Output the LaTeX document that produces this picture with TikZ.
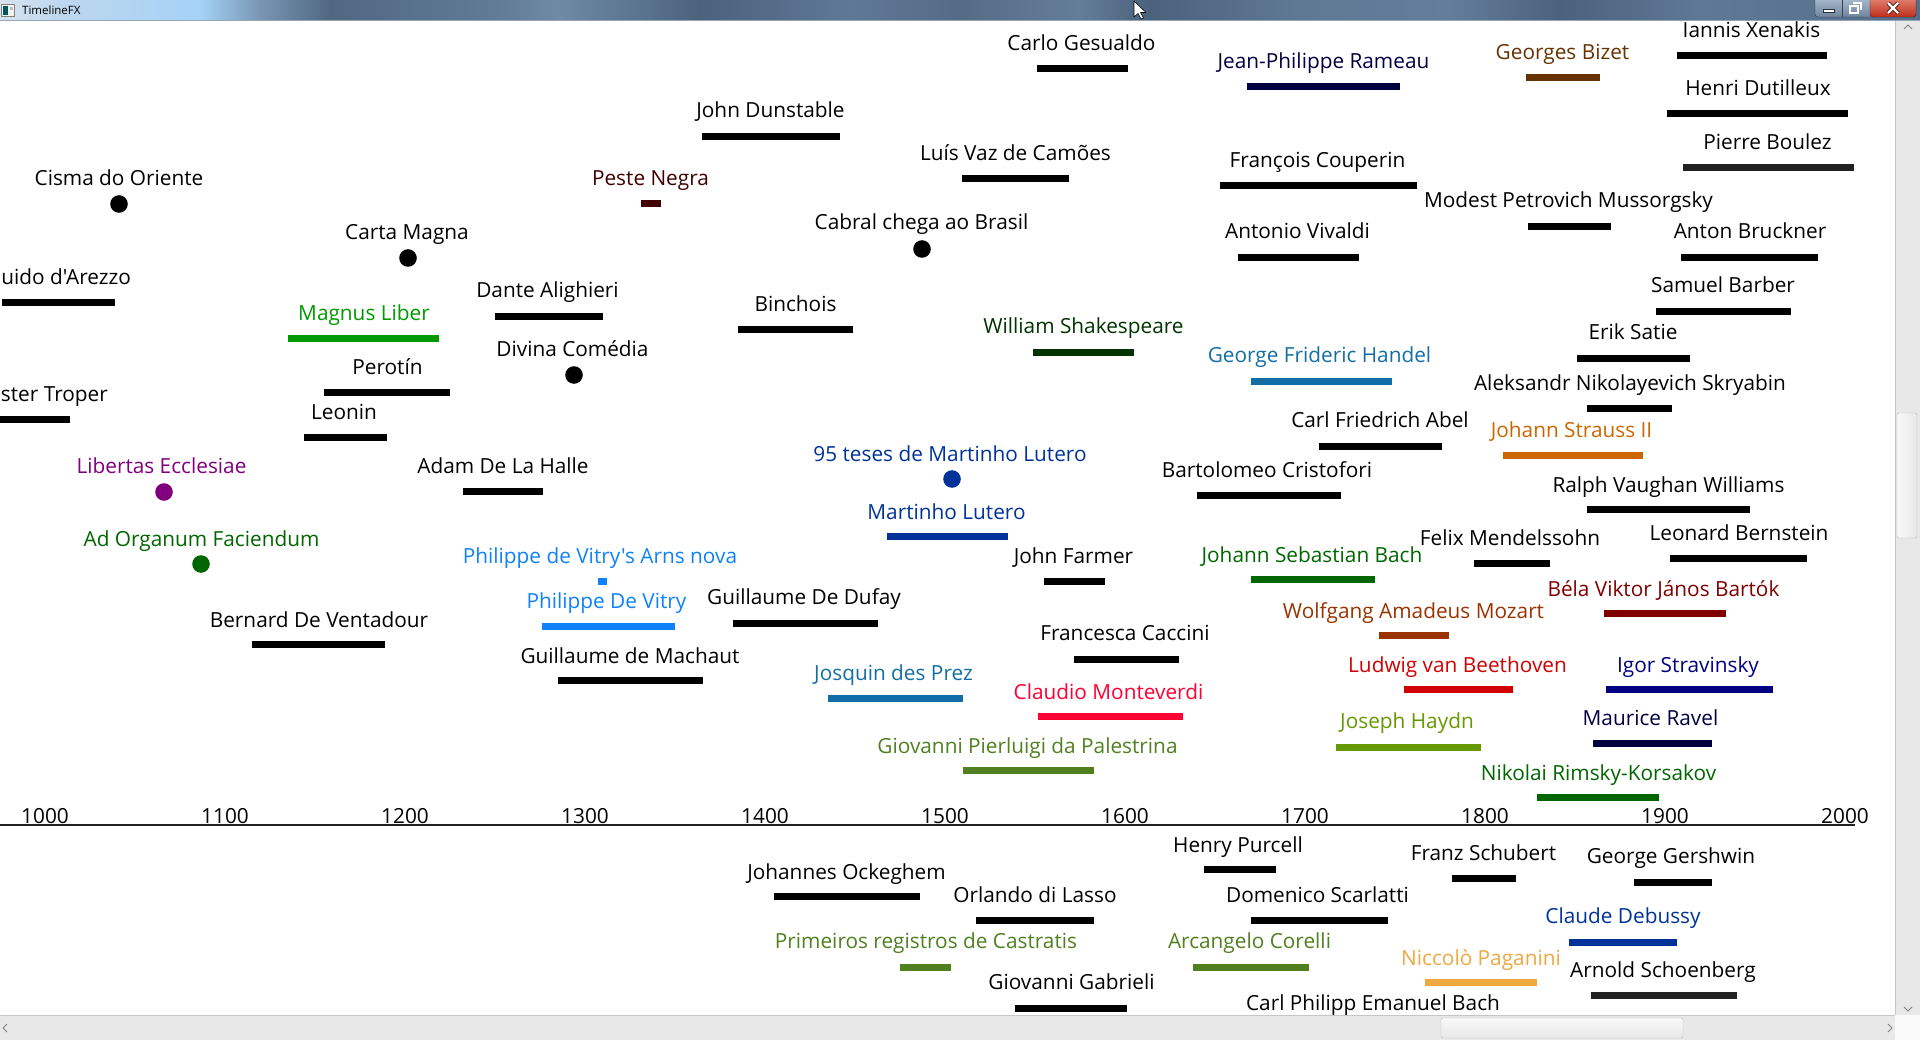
\documentclass[tikz,border=0pt]{standalone}
\usepackage{fontspec}
\setmainfont{Open Sans}
% label face without TeX ligature mapping, so apostrophes stay straight
\newfontfamily\lblfamily{Open Sans}
\definecolor{cPeste}{RGB}{64,0,0}
\definecolor{cNavyDark}{RGB}{0,0,64}
\definecolor{cBrown}{RGB}{102,51,0}
\definecolor{cMagnus}{RGB}{0,153,0}
\definecolor{cShakes}{RGB}{0,51,0}
\definecolor{cTeal}{RGB}{20,110,165}
\definecolor{cBlue}{RGB}{0,51,153}
\definecolor{cVitry}{RGB}{15,130,250}
\definecolor{cPurple}{RGB}{128,0,128}
\definecolor{cGreen}{RGB}{0,102,0}
\definecolor{cRust}{RGB}{153,51,0}
\definecolor{cRed}{RGB}{210,0,0}
\definecolor{cPink}{RGB}{255,0,51}
\definecolor{cOrange}{RGB}{204,102,0}
\definecolor{cMaroon}{RGB}{128,0,0}
\definecolor{cNavy}{RGB}{0,0,128}
\definecolor{cOlive}{RGB}{80,128,32}
\definecolor{cHaydn}{RGB}{102,153,0}
\definecolor{cPaganini}{RGB}{240,168,64}
\definecolor{cDark}{RGB}{34,34,34}
\definecolor{cTrack}{RGB}{232,232,232}
\definecolor{cArrow}{RGB}{130,130,130}
\definecolor{cTitleLine}{RGB}{150,165,182}
\definecolor{cBtnTop}{RGB}{175,192,210}
\definecolor{cBtnBot}{RGB}{110,132,158}
\definecolor{cBtnEdge}{RGB}{50,64,80}
\definecolor{cCloseTop}{RGB}{230,140,120}
\definecolor{cCloseBot}{RGB}{190,45,28}
\definecolor{cCloseEdge}{RGB}{90,30,25}
\definecolor{cGlyphEdge}{RGB}{40,50,62}
\definecolor{cXEdge}{RGB}{80,20,15}
% a timeline bar: colour, left x, right x, centre y
\newcommand\Span[4]{\fill[#1] (#2,#4-3.5) rectangle (#3,#4+3.5);}
% a point event marker: colour, x, y
\newcommand\Mark[3]{\fill[#1] (#2,#3) circle[radius=8.8pt];}
\begin{document}
\begin{tikzpicture}[x=1pt,y=-1pt,
  lbl/.style={anchor=base,inner sep=0pt,font=\lblfamily\fontsize{20.8}{25}\selectfont},
  lble/.style={lbl,anchor=base east},
  yearlbl/.style={lbl}]
\useasboundingbox (0,0) rectangle (1920,1040);
\clip (0,0) rectangle (1920,1040);
\fill[white] (0,0) rectangle (1920,1040);

% ---- upper band, left part
\node[lbl] (cisma) at (119,186) {Cisma do Oriente};
\Mark{black}{119}{204}
\node[lbl] (carta) at (407,240) {Carta Magna};
\Mark{black}{408}{258}
\node[lble] (guido) at (131,285) {Guido d'Arezzo};
\Span{black}{2}{115}{303}
\node[lbl,text=cMagnus] (magnus) at (364,321) {Magnus Liber};
\Span{cMagnus}{288}{439}{338.5}
\node[lbl] (dunstable) at (770.5,118) {John Dunstable};
\Span{black}{702}{840}{137}
\node[lbl,text=cPeste] (peste) at (650.5,186) {Peste Negra};
\Span{cPeste}{641}{661}{203.5}
\node[lbl] (cabral) at (921.5,230) {Cabral chega ao Brasil};
\Mark{black}{922}{249}
\node[lbl] (dante) at (547.5,298) {Dante Alighieri};
\Span{black}{495}{603}{317}
\node[lbl] (binchois) at (795.5,312) {Binchois};
\Span{black}{738}{853}{329.5}
\node[lbl] (divina) at (572.5,357) {Divina Comédia};
\Mark{black}{574}{375}

% ---- upper band, middle part
\node[lbl] (gesualdo) at (1081.5,51) {Carlo Gesualdo};
\Span{black}{1037}{1128}{68.5}
\node[lbl,text=cNavyDark] (rameau) at (1323.5,69) {Jean-Philippe Rameau};
\Span{cNavyDark}{1247}{1400}{86.5}
\node[lbl] (camoes) at (1015.5,161) {Luís Vaz de Camões};
\Span{black}{962}{1069}{178.5}
\node[lbl] (couperin) at (1317.5,168) {François Couperin};
\Span{black}{1220}{1417}{185.5}
\node[lbl] (vivaldi) at (1297.5,239) {Antonio Vivaldi};
\Span{black}{1238}{1359}{257.5}
\node[lbl,text=cShakes] (shakes) at (1083.5,334) {William Shakespeare};
\Span{cShakes}{1033}{1134}{352.5}

% ---- upper band, right part
\node[lbl] (xenakis) at (1751.5,38) {Iannis Xenakis};
\Span{black}{1677}{1827}{56}
\node[lbl,text=cBrown] (bizet) at (1562.5,60) {Georges Bizet};
\Span{cBrown}{1526}{1600}{77.5}
\node[lbl] (dutilleux) at (1758,96) {Henri Dutilleux};
\Span{black}{1667}{1848}{113.5}
\node[lbl] (boulez) at (1767.5,150) {Pierre Boulez};
\Span{cDark}{1683}{1854}{167.5}
\node[lbl] (mussorgsky) at (1568.5,208) {Modest Petrovich Mussorgsky};
\Span{black}{1528}{1611}{226.5}
\node[lbl] (bruckner) at (1750,239) {Anton Bruckner};
\Span{black}{1681}{1818}{257.5}
\node[lbl] (barber) at (1723,293) {Samuel Barber};
\Span{black}{1656}{1791}{311.5}
\node[lbl] (satie) at (1633,340) {Erik Satie};
\Span{black}{1577}{1690}{358.5}

% ---- middle band, left part
\node[lbl] (perotin) at (387.5,375) {Perotín};
\Span{black}{324}{450}{392.5}
\node[lble] (troper) at (108,402) {Winchester Troper};
\Span{black}{0}{70}{419.5}
\node[lbl] (leonin) at (344,420) {Leonin};
\Span{black}{304}{387}{437.5}
\node[lbl,text=cPurple] (libertas) at (161.5,473) {Libertas Ecclesiae};
\Mark{cPurple}{164}{492}
\node[lbl] (halle) at (503,473) {Adam De La Halle};
\Span{black}{463}{543}{491.5}
\node[lbl,text=cGreen] (organum) at (201.5,546) {Ad Organum Faciendum};
\Mark{cGreen}{201}{564}
\node[lbl] (ventadour) at (319,627) {Bernard De Ventadour};
\Span{black}{252}{385}{644.5}

% ---- middle band, centre
\node[lbl,text=cBlue] (teses) at (950,461) {95 teses de Martinho Lutero};
\Mark{cBlue}{952}{479}
\node[lbl,text=cBlue] (lutero) at (946.5,519) {Martinho Lutero};
\Span{cBlue}{887}{1008}{536.5}
\node[lbl,text=cVitry] (arsnova) at (600,563) {Philippe de Vitry's Arns nova};
\Span{cVitry}{598}{607}{581.5}
\node[lbl,text=cVitry] (vitry) at (606.5,608) {Philippe De Vitry};
\Span{cVitry}{542}{675}{626.5}
\node[lbl] (dufay) at (804,604) {Guillaume De Dufay};
\Span{black}{733}{878}{623}
\node[lbl] (machaut) at (630,663) {Guillaume de Machaut};
\Span{black}{558}{703}{680.5}
\node[lbl,text=cTeal] (josquin) at (893.5,680) {Josquin des Prez};
\Span{cTeal}{828}{963}{698.5}
\node[lbl,text=cTeal] (handel) at (1319.5,363) {George Frideric Handel};
\Span{cTeal}{1251}{1392}{381.5}
\node[lbl] (abel) at (1380,428) {Carl Friedrich Abel};
\Span{black}{1319}{1442}{446.5}
\node[lbl] (cristofori) at (1267,477) {Bartolomeo Cristofori};
\Span{black}{1197}{1341}{495.5}
\node[lbl] (farmer) at (1073.5,563) {John Farmer};
\Span{black}{1044}{1105}{581.5}
\node[lbl,text=cGreen] (bach) at (1312,562) {Johann Sebastian Bach};
\Span{cGreen}{1251}{1375}{579.5}
\node[lbl] (mendelssohn) at (1510,545) {Felix Mendelssohn};
\Span{black}{1474}{1550}{563.5}
\node[lbl,text=cRust] (mozart) at (1413.5,618) {Wolfgang Amadeus Mozart};
\Span{cRust}{1379}{1449}{635.5}
\node[lbl] (caccini) at (1125,640) {Francesca Caccini};
\Span{black}{1074}{1179}{659}
\node[lbl,text=cRed] (beethoven) at (1457.5,672) {Ludwig van Beethoven};
\Span{cRed}{1404}{1513}{689.5}
\node[lbl,text=cPink] (monteverdi) at (1108.5,699) {Claudio Monteverdi};
\Span{cPink}{1038}{1183}{716.5}

% ---- middle band, right part
\node[lbl] (skryabin) at (1630,391) {Aleksandr Nikolayevich Skryabin};
\Span{black}{1587}{1672}{408.5}
\node[lbl,text=cOrange] (strauss) at (1571.5,438) {Johann Strauss II};
\Span{cOrange}{1503}{1643}{455.5}
\node[lbl] (vaughan) at (1668.5,492) {Ralph Vaughan Williams};
\Span{black}{1587}{1750}{509.5}
\node[lbl] (bernstein) at (1739,540) {Leonard Bernstein};
\Span{black}{1670}{1807}{558}
\node[lbl,text=cMaroon] (bartok) at (1663.5,596) {Béla Viktor János Bartók};
\Span{cMaroon}{1604}{1726}{613.5}
\node[lbl,text=cNavy] (stravinsky) at (1688,672) {Igor Stravinsky};
\Span{cNavy}{1606}{1773}{689.5}

% ---- lowest events above the axis
\node[lbl,text=cOlive] (palestrina) at (1027.5,753) {Giovanni Pierluigi da Palestrina};
\Span{cOlive}{963}{1094}{770.5}
\node[lbl,text=cNavyDark] (ravel) at (1650.5,725) {Maurice Ravel};
\Span{cNavyDark}{1593}{1712}{743.5}
\node[lbl,text=cHaydn] (haydn) at (1407,728) {Joseph Haydn};
\Span{cHaydn}{1336}{1481}{747}
\node[lbl,text=cGreen] (rimsky) at (1598.5,780) {Nikolai Rimsky-Korsakov};
\Span{cGreen}{1537}{1659}{797.5}

% ---- time axis
\draw[line width=1.8pt,cDark] (0,825) -- (1855,825);
\foreach \yr [count=\k from 0] in {1000,1100,...,2000}
  \node[yearlbl] (yr\yr) at (45+180*\k,823) {\yr};

% ---- events below the axis
\node[lbl] (ockeghem) at (846.5,879) {Johannes Ockeghem};
\Span{black}{774}{920}{896.5}
\node[lbl,text=cOlive] (castratis) at (926,948) {Primeiros registros de Castratis};
\Span{cOlive}{900}{951}{967}
\node[lbl] (purcell) at (1238,852) {Henry Purcell};
\Span{black}{1204}{1276}{869.5}
\node[lbl] (lasso) at (1035,902) {Orlando di Lasso};
\Span{black}{976}{1094}{920}
\node[lbl] (scarlatti) at (1317.5,902) {Domenico Scarlatti};
\Span{black}{1251}{1388}{920.5}
\node[lbl,text=cOlive] (corelli) at (1249.5,948) {Arcangelo Corelli};
\Span{cOlive}{1193}{1309}{967}
\node[lbl] (gabrieli) at (1071.5,989) {Giovanni Gabrieli};
\Span{black}{1015}{1127}{1008}
\node[lbl] (cpebach) at (1373,1010) {Carl Philipp Emanuel Bach};
\node[lbl,text=cPaganini] (paganini) at (1481,965) {Niccolò Paganini};
\Span{cPaganini}{1425}{1537}{982.5}
\node[lbl] (schubert) at (1483.5,860) {Franz Schubert};
\Span{black}{1452}{1516}{878.5}
\node[lbl] (gershwin) at (1671,863) {George Gershwin};
\Span{black}{1634}{1712}{882}
\node[lbl,text=cBlue] (debussy) at (1623,923) {Claude Debussy};
\Span{cBlue}{1569}{1677}{942}
\node[lbl] (schoenberg) at (1663,977) {Arnold Schoenberg};
\Span{cDark}{1591}{1737}{995.5}

% ---- scroll bars
\fill[cTrack] (1895,21) rectangle (1920,1015);
\draw[gray!45] (1895.5,21) -- (1895.5,1015);
\fill[cTrack] (0,1015) rectangle (1895,1040);
\draw[gray!45] (0,1015.5) -- (1895,1015.5);
\fill[white!96!gray] (1895,1015) rectangle (1920,1040);
\shade[left color=white!95!gray,right color=white!82!gray,draw=gray!55,rounded corners=2pt]
  (1897,413) rectangle (1917,538);
\shade[top color=white!95!gray,bottom color=white!82!gray,draw=gray!55,rounded corners=2pt]
  (1441,1018) rectangle (1683,1038);
\draw[cArrow,line width=0.8pt] (1904,29) -- (1908,25) -- (1912,29);
\draw[cArrow,line width=0.8pt] (1904,1007) -- (1908,1011) -- (1912,1007);
\draw[cArrow,line width=0.8pt] (7,1024) -- (3,1028) -- (7,1032);
\draw[cArrow,line width=0.8pt] (1888,1024) -- (1892,1028) -- (1888,1032);

% ---- title bar
\def\tbA{0/{215,228,240}, 60/{190,215,238}, 200/{165,210,245}, 260/{120,150,180}, 330/{80,104,130}, 480/{95,120,148}, 560/{110,138,165}, 700/{75,98,125}, 850/{95,120,150}, 960/{85,108,135}, 1080/{100,125,152}, 1150/{75,98,125}, 1300/{95,120,148}, 1450/{100,125,155}, 1560/{75,98,125}, 1700/{95,120,150}, 1920/{85,110,140}}
\gdef\lastx{0}\gdef\lastc{215,228,240}
\foreach \xx/\cc in \tbA {%
  \definecolor{tbL}{RGB}{\lastc}\definecolor{tbR}{RGB}{\cc}%
  \shade[left color=tbL,right color=tbR] (\lastx-0.5,0) rectangle (\xx,20);
  \xdef\lastx{\xx}\xdef\lastc{\cc}}
\draw[line width=1pt,cTitleLine] (0,20.5) -- (1920,20.5);
% application icon and caption
\fill[white!90!gray,draw=gray] (1.5,4.5) rectangle (14.5,16.5);
\fill[teal!70!black] (2.5,6) rectangle (8,15.5);
\fill[gray!50] (10,7) rectangle (13,10);
\node[anchor=base west,inner sep=0pt,font=\fontsize{11.5}{13}\selectfont] (caption) at (22,15) {TimelineFX};
% mouse pointer
\draw[black,fill=white,line width=0.6pt,line join=round]
  (1134,1) -- (1134,17) -- (1138,13.5) -- (1141,19) -- (1143.5,18) -- (1140.5,12.5) -- (1146,12.5) -- cycle;
% window buttons
\shade[top color=cBtnTop,bottom color=cBtnBot,rounded corners=3pt,draw=cBtnEdge] (1815,-4) rectangle (1916,17);
\shade[top color=cCloseTop,bottom color=cCloseBot,rounded corners=3pt,draw=cCloseEdge] (1870,-4) rectangle (1916,17);
\draw[cBtnEdge] (1842.5,0) -- (1842.5,17);
\fill[white,draw=cGlyphEdge,line width=0.5pt] (1823,9) rectangle (1834,12);
\draw[white,line width=1.2pt] (1850,6) rectangle (1858,13);
\draw[white,line width=1.2pt] (1853,3) -- (1861,3) -- (1861,10);
\draw[cXEdge,line width=4pt] (1888,3) -- (1898,13) (1888,13) -- (1898,3);
\draw[white,line width=2.4pt] (1888,3) -- (1898,13) (1888,13) -- (1898,3);
\end{tikzpicture}
\end{document}
